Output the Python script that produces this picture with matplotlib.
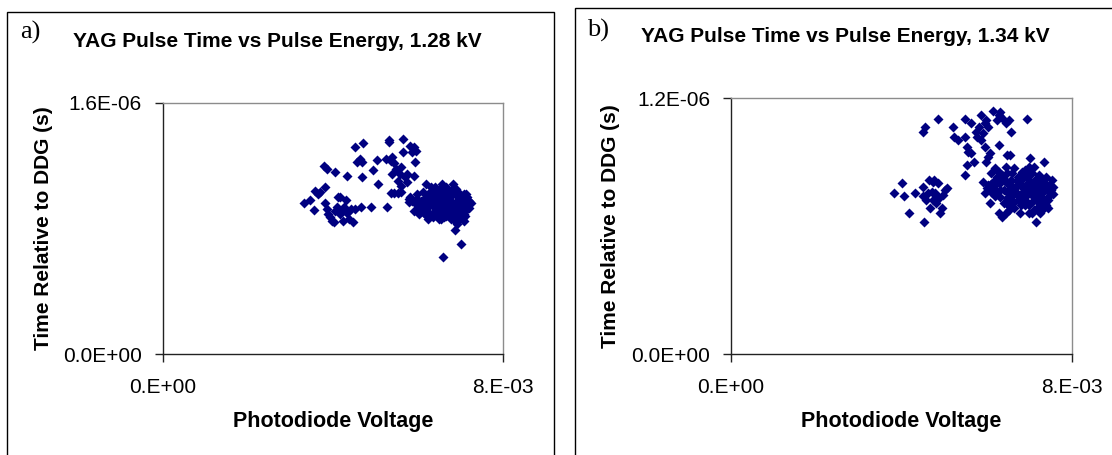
import matplotlib
matplotlib.use("Agg")
import matplotlib.pyplot as plt
from matplotlib.patches import Rectangle
import numpy as np

plt.rcParams['font.family'] = ['Liberation Sans', 'DejaVu Sans']

########################################
# Data
# x in mV (photodiode voltage), y in microseconds
#
a_x = [3.32, 3.47, 3.56, 3.59, 3.66, 3.71, 3.82, 3.82, 3.87, 3.89, 3.93, 3.99, 4.04, 4.06,
       4.10, 4.13, 4.18, 4.18, 4.23, 4.24, 4.27, 4.31, 4.33, 4.38, 4.44, 4.48, 4.52, 4.66,
       4.90, 3.79, 3.87, 4.06, 4.33, 4.52, 4.71, 4.56, 4.65, 4.69, 4.69, 4.94, 5.07, 5.05,
       5.27, 5.32, 5.32, 5.25, 5.36, 5.40, 5.44, 5.40, 5.48, 5.53, 5.57, 5.61, 5.65, 5.65,
       5.69, 5.74, 5.61, 5.82, 5.90, 5.86, 5.95, 5.93, 5.90, 5.36, 5.44, 5.53, 5.61, 5.74,
       5.82, 5.78,
       6.20, 6.32, 6.45, 6.57, 6.70, 6.83, 6.95, 7.08, 7.16, 7.25, 7.12, 7.04, 6.91, 6.87,
       6.99, 7.08, 7.16, 6.78, 6.66, 6.53, 6.41, 6.28, 6.36, 6.49, 6.62, 6.74, 6.83, 6.70,
       6.57, 6.45, 6.32, 6.20, 6.07, 5.99, 5.90, 5.95, 6.03, 6.16, 6.24, 6.11, 5.99, 6.36,
       6.49, 6.62, 6.74, 6.91, 6.99, 6.87, 6.74, 6.66, 6.53, 6.41, 6.28, 6.16, 6.24, 6.45,
       6.57, 6.78, 6.95, 7.08, 7.20, 7.04, 6.87, 7.01, 6.59, 5.86, 5.78, 6.83, 6.98, 6.66,
       6.49, 6.36, 6.24, 6.57, 6.74, 6.87, 7.12, 6.11, 6.03, 7.08, 6.91, 6.78,
       6.20, 6.30, 6.40, 6.50, 6.60, 6.70, 6.80, 6.90, 7.00, 7.10, 7.20, 6.45, 6.55, 6.85,
       6.95, 7.10, 6.30, 6.60, 6.90, 6.05, 6.15, 6.65, 7.00, 7.15]
a_y = [0.961, 0.980, 0.916, 1.039, 1.018, 1.029, 1.065, 0.961, 0.923, 0.891, 0.870, 0.849,
       0.838, 0.912, 0.933, 0.997, 0.997, 0.891, 0.916, 0.849, 0.933, 0.980, 0.895, 0.859,
       0.923, 0.838, 0.923, 0.938, 0.938, 1.198, 1.177, 1.156, 1.134, 1.319, 1.340, 1.219,
       1.240, 1.219, 1.124, 1.170, 1.081, 1.234,
       0.938, 1.361, 1.346, 1.240, 1.230, 1.251, 1.213, 1.145, 1.177, 1.103, 1.145, 1.187,
       1.367, 1.283, 1.124, 1.145, 1.071, 1.325, 1.314, 1.283, 1.293, 1.219, 1.134, 1.022,
       1.022, 1.022, 1.029, 1.092, 0.997, 0.965,
       1.081, 1.060, 1.029, 1.081, 1.039, 1.081, 1.029, 1.018, 0.997, 0.961, 0.976, 0.933,
       0.891, 0.849, 0.870, 0.891, 0.923, 0.976, 0.954, 0.933, 0.912, 0.891, 0.870, 0.859,
       0.870, 0.891, 0.944, 0.997, 0.986, 0.976, 0.965, 0.954, 0.976, 0.986, 0.912, 0.954,
       0.923, 0.923, 0.997, 1.029, 1.018, 1.007, 0.997, 0.912, 0.923, 0.976, 0.997, 1.018,
       1.029, 1.060, 1.050, 1.060, 1.018, 0.891, 0.859, 0.891, 0.891, 0.859, 0.923, 0.965,
       0.976, 0.859, 0.789, 0.701, 0.616, 0.976, 0.986, 1.050, 0.965, 0.880, 0.954, 0.944,
       0.933, 1.018, 0.976, 0.912, 1.018, 0.976, 0.891, 0.849, 0.828, 1.007,
       1.000, 0.990, 0.940, 0.970, 0.950, 0.920, 0.960, 0.940, 0.910, 0.940, 0.930, 0.880,
       0.860, 0.880, 0.850, 0.880, 1.040, 1.050, 1.050, 0.950, 0.900, 0.990, 1.000, 0.980]

b_x = [3.82, 4.00, 4.07, 4.17, 4.32, 4.50, 4.50, 4.52, 4.62, 4.65, 4.66, 4.71, 4.73, 4.76,
       4.79, 4.81, 4.85, 4.87, 4.91, 4.95, 4.98, 5.01, 5.06, 4.58, 4.75,
       4.50, 4.54, 4.85, 5.20, 5.24, 5.33, 5.48, 5.49, 5.53, 5.57, 5.62, 5.62, 5.70, 5.53,
       5.49, 5.86, 5.82, 5.74, 5.78, 5.86, 5.91, 5.95, 5.99, 6.03, 5.95, 6.03, 6.07, 5.99,
       6.15, 6.24, 6.28, 6.32, 6.36, 6.28, 6.44, 6.53, 6.57, 6.48, 6.55, 6.44, 6.94, 7.35,
       7.11, 7.02,
       5.91, 5.95, 6.03, 6.11, 6.20, 6.24, 6.32, 6.40, 6.48, 6.57, 6.65, 6.73, 6.82, 6.90,
       6.98, 7.06, 7.15, 7.23, 7.31, 7.39, 7.48, 7.56, 7.52, 7.44, 7.35, 7.23, 7.11, 6.98,
       6.90, 6.77, 6.65, 6.53, 6.40, 6.32, 6.24, 6.11, 6.07, 6.28, 6.36, 6.48, 6.61, 6.69,
       6.82, 6.94, 7.02, 7.11, 7.19, 7.27, 7.35, 7.15, 7.44, 6.86, 6.73, 6.57, 6.44, 6.20,
       6.15, 7.11, 7.23, 6.98, 6.86, 6.73, 6.61, 6.48, 7.06, 6.90, 7.19, 7.31, 6.36, 6.28,
       6.98, 6.82, 7.48, 7.39, 7.27,
       6.00, 6.10, 6.20, 6.30, 6.40, 6.50, 6.60, 6.70, 6.80, 6.90, 7.00, 7.10, 7.20, 7.30,
       7.40, 7.50, 7.55, 7.45, 7.30, 7.20, 7.00, 6.90, 6.80, 6.70, 6.60, 6.50, 6.45, 7.05,
       7.25, 7.40, 7.00, 6.60, 6.15, 6.95, 7.15]
b_y = [0.757, 0.804, 0.741, 0.660, 0.757, 0.785, 0.741, 0.620, 0.754, 0.816, 0.683, 0.761,
       0.808, 0.816, 0.754, 0.707, 0.801, 0.730, 0.660, 0.683, 0.746, 0.769, 0.777, 0.722,
       0.722,
       1.043, 1.064, 1.103, 1.064, 1.020, 1.004, 1.103, 1.020, 0.973, 0.949, 0.942, 1.083,
       0.902, 0.887, 0.840, 1.122, 1.067, 1.043, 1.020, 1.004, 1.036, 1.083, 1.098, 1.067,
       0.973, 0.926, 0.942, 0.902, 1.142, 1.098, 1.122, 1.137, 1.106, 0.981, 1.083, 1.098,
       1.043, 0.934, 0.934, 0.879, 1.103, 0.902, 0.879, 0.918,
       0.808, 0.754, 0.793, 0.848, 0.871, 0.832, 0.801, 0.769, 0.848, 0.816, 0.871, 0.832,
       0.785, 0.863, 0.816, 0.848, 0.785, 0.840, 0.808, 0.777, 0.754, 0.785, 0.816, 0.722,
       0.683, 0.707, 0.675, 0.660, 0.699, 0.660, 0.683, 0.675, 0.707, 0.738, 0.761, 0.761,
       0.707, 0.660, 0.644, 0.730, 0.746, 0.761, 0.738, 0.746, 0.754, 0.738, 0.761, 0.738,
       0.722, 0.620, 0.683, 0.761, 0.722, 0.777, 0.808, 0.793, 0.808, 0.808, 0.785, 0.777,
       0.824, 0.793, 0.707, 0.761, 0.714, 0.722, 0.722, 0.761, 0.840, 0.855, 0.879, 0.855,
       0.793, 0.832, 0.816,
       0.780, 0.800, 0.740, 0.770, 0.820, 0.800, 0.790, 0.810, 0.800, 0.780, 0.790, 0.760,
       0.800, 0.780, 0.800, 0.770, 0.750, 0.740, 0.700, 0.690, 0.700, 0.740, 0.700, 0.750,
       0.720, 0.700, 0.660, 0.660, 0.660, 0.700, 0.840, 0.850, 0.780, 0.800, 0.820]

panels = [
    dict(tag="a)", title="YAG Pulse Time vs Pulse Energy, 1.28 kV", x=a_x, y=a_y,
         ymax=1.6e-6, ylab=["0.0E+00", "1.6E-06"]),
    dict(tag="b)", title="YAG Pulse Time vs Pulse Energy, 1.34 kV", x=b_x, y=b_y,
         ymax=1.2e-6, ylab=["0.0E+00", "1.2E-06"]),
]

W, H = 1112, 455
fig = plt.figure(figsize=(W / 100, H / 100), dpi=100)

def fx(px):
    return px / W

def fy(py):
    return 1 - py / H

# pixel layout of each panel: outer box, plot area, text spots
boxes = [(7.3, 12.3, 554), (575, 8.3, 1140)]
areas = [(162.5, 102.5, 503, 354), (731, 98.3, 1072, 354)]
tag_pos = [(20, 39), (587, 36.7)]
title_pos = [(72.7, 47), (641, 42)]
ylab_x = [44, 611]

for p, (bx0, by0, bx1), (l, t, r, b), tp, ttp, yl in zip(panels, boxes, areas, tag_pos,
                                                        title_pos, ylab_x):
    fig.patches.append(Rectangle((fx(bx0), fy(H + 20)), fx(bx1) - fx(bx0), fy(by0) - fy(H + 20),
                                 transform=fig.transFigure, fill=False, ec="black", lw=1.0))
    fig.text(fx(tp[0]), fy(tp[1]), p["tag"], family="Liberation Serif", fontsize=19,
             va="baseline", ha="left")
    fig.text(fx(ttp[0]), fy(ttp[1]), p["title"], fontsize=15, fontweight="bold",
             va="baseline", ha="left")

    ax = fig.add_axes([fx(l), fy(b), fx(r) - fx(l), fy(t) - fy(b)])
    ax.plot(np.array(p["x"]) * 1e-3, np.array(p["y"]) * 1e-6, linestyle="none", marker="D",
            ms=4.8, color="#000080", mec="none")
    ax.set_xlim(0, 8e-3)
    ax.set_ylim(0, p["ymax"])
    ax.set_xticks([0, 8e-3])
    ax.set_xticklabels(["0.E+00", "8.E-03"])
    ax.set_yticks([0, p["ymax"]])
    ax.set_yticklabels(p["ylab"])
    ax.tick_params(direction="out", length=6, width=1, labelsize=15, color="#222222")
    ax.tick_params(axis="x", pad=11)
    ax.tick_params(axis="y", pad=9)
    for s in ["top", "right"]:
        ax.spines[s].set_color("#8c8c8c")
    for s in ["left", "bottom"]:
        ax.spines[s].set_color("#222222")
    for s in ax.spines.values():
        s.set_linewidth(1)

    ax.set_xlabel("Photodiode Voltage", fontsize=15.5, fontweight="bold")
    ax.set_ylabel("Time Relative to DDG (s)", fontsize=15, fontweight="bold")
    ax.xaxis.set_label_coords(0.5, (b - 422) / (b - t))
    ax.xaxis.label.set_va("center")
    ax.yaxis.set_label_coords((yl - l) / (r - l), 0.5)
    ax.yaxis.label.set_va("center")

fig.savefig("out.png", dpi=100)
